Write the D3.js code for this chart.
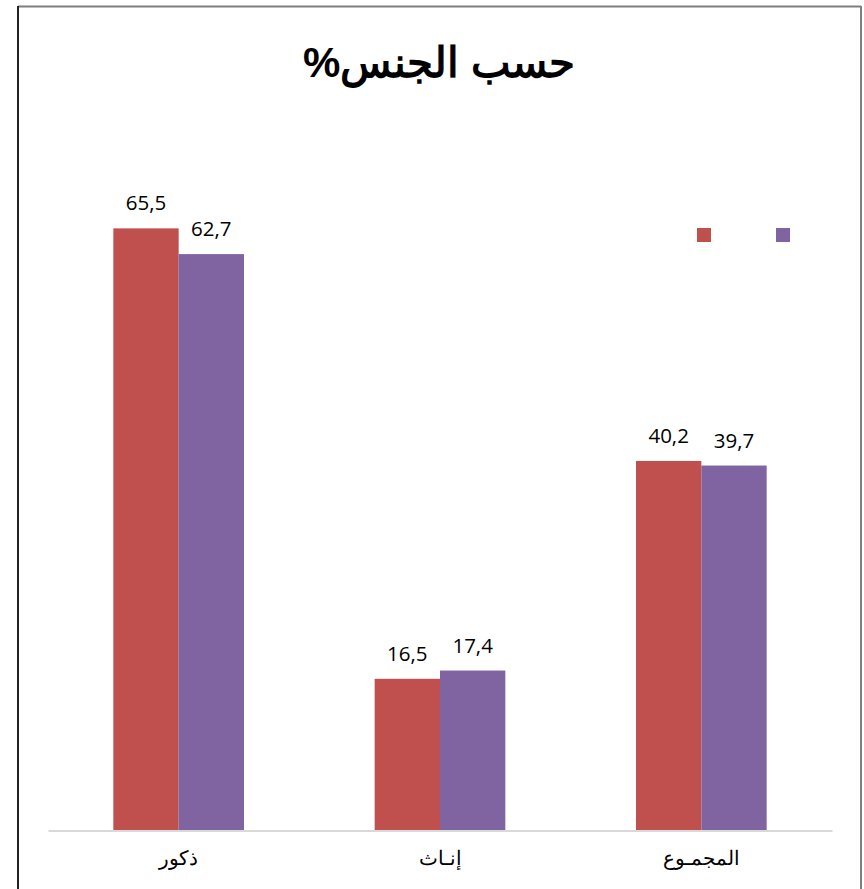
<!DOCTYPE html>
<html>
<head>
<meta charset="utf-8">
<script src="https://cdn.jsdelivr.net/npm/d3@7"></script>
<style>
  body { margin: 0; background: #fff; }
  svg { display: block; }
</style>
</head>
<body>
<script>
var width = 864;
var height = 889;

// data
var categories = ["ذكور", "إنـاث", "المجمـوع"];
var seriesA = [65.5, 16.5, 40.2];
var seriesB = [62.7, 17.4, 39.7];
var seriesNames = ["", ""];
var colors = ["#C0504D", "#8064A2"];

var margin = {left: 48, right: 32, top: 187, bottom: 58};

var svg = d3.select("body").append("svg")
    .attr("width", width)
    .attr("height", height);

// chart border
svg.append("line").attr("x1", 18).attr("y1", 6.5).attr("x2", 861).attr("y2", 6.5)
    .attr("stroke", "#7f7f7f").attr("stroke-width", 2);
svg.append("line").attr("x1", 18).attr("y1", 6).attr("x2", 18).attr("y2", height)
    .attr("stroke", "#222").attr("stroke-width", 2);
svg.append("line").attr("x1", 861).attr("y1", 6).attr("x2", 861).attr("y2", height)
    .attr("stroke", "#7f7f7f").attr("stroke-width", 2);

// title
svg.append("text")
    .attr("x", 439)
    .attr("y", 77)
    .attr("text-anchor", "middle")
    .attr("direction", "rtl")
    .style("font-family", "Liberation Sans, Arial, sans-serif")
    .style("font-weight", "bold")
    .style("font-size", "42px")
    .text("حسب الجنس%");

var x0 = d3.scaleBand()
    .domain(categories)
    .range([margin.left, width - margin.right])
    .paddingInner(0.5)
    .paddingOuter(0.25);

var x1 = d3.scaleBand()
    .domain([0, 1])
    .range([0, x0.bandwidth()]);

var y = d3.scaleLinear()
    .domain([0, 70])
    .range([height - margin.bottom - 0.5, margin.top]);

var rows = categories.map(function(c, i) {
    return {cat: c, vals: [seriesA[i], seriesB[i]]};
});

var groups = svg.selectAll("g.cat")
    .data(rows)
    .enter()
    .append("g")
    .attr("class", "cat")
    .attr("transform", function(d) { return "translate(" + x0(d.cat) + ",0)"; });

groups.selectAll("rect")
    .data(function(d) { return d.vals; })
    .enter()
    .append("rect")
    .attr("x", function(d, i) { return x1(i); })
    .attr("width", x1.bandwidth())
    .attr("y", function(d) { return y(d); })
    .attr("height", function(d) { return y(0) - y(d); })
    .attr("fill", function(d, i) { return colors[i]; });

groups.selectAll("text")
    .data(function(d) { return d.vals; })
    .enter()
    .append("text")
    .attr("x", function(d, i) { return x1(i) + x1.bandwidth() / 2; })
    .attr("y", function(d) { return y(d) - 18; })
    .attr("text-anchor", "middle")
    .style("font-family", "Open Sans, sans-serif")
    .style("font-size", "20.5px")
    .text(function(d) { return d.toFixed(1).replace(".", ","); });

// x axis
var xAxis = d3.axisBottom(x0).tickSize(0).tickPadding(20);
var axisG = svg.append("g")
    .attr("transform", "translate(0," + y(0) + ")")
    .call(xAxis);
axisG.select(".domain").attr("stroke", "#d9d9d9").attr("stroke-width", 2);
axisG.selectAll(".tick text")
    .style("font-family", "Liberation Sans, Arial, sans-serif")
    .style("font-size", "20px")
    .attr("fill", "#000");

// legend (series with empty names)
var legend = svg.append("g")
    .attr("transform", "translate(697,228)");
legend.selectAll("rect")
    .data(seriesNames)
    .enter()
    .append("rect")
    .attr("x", function(d, i) { return i * 79; })
    .attr("width", 14)
    .attr("height", 14)
    .attr("fill", function(d, i) { return colors[i]; });
</script>
</body>
</html>
